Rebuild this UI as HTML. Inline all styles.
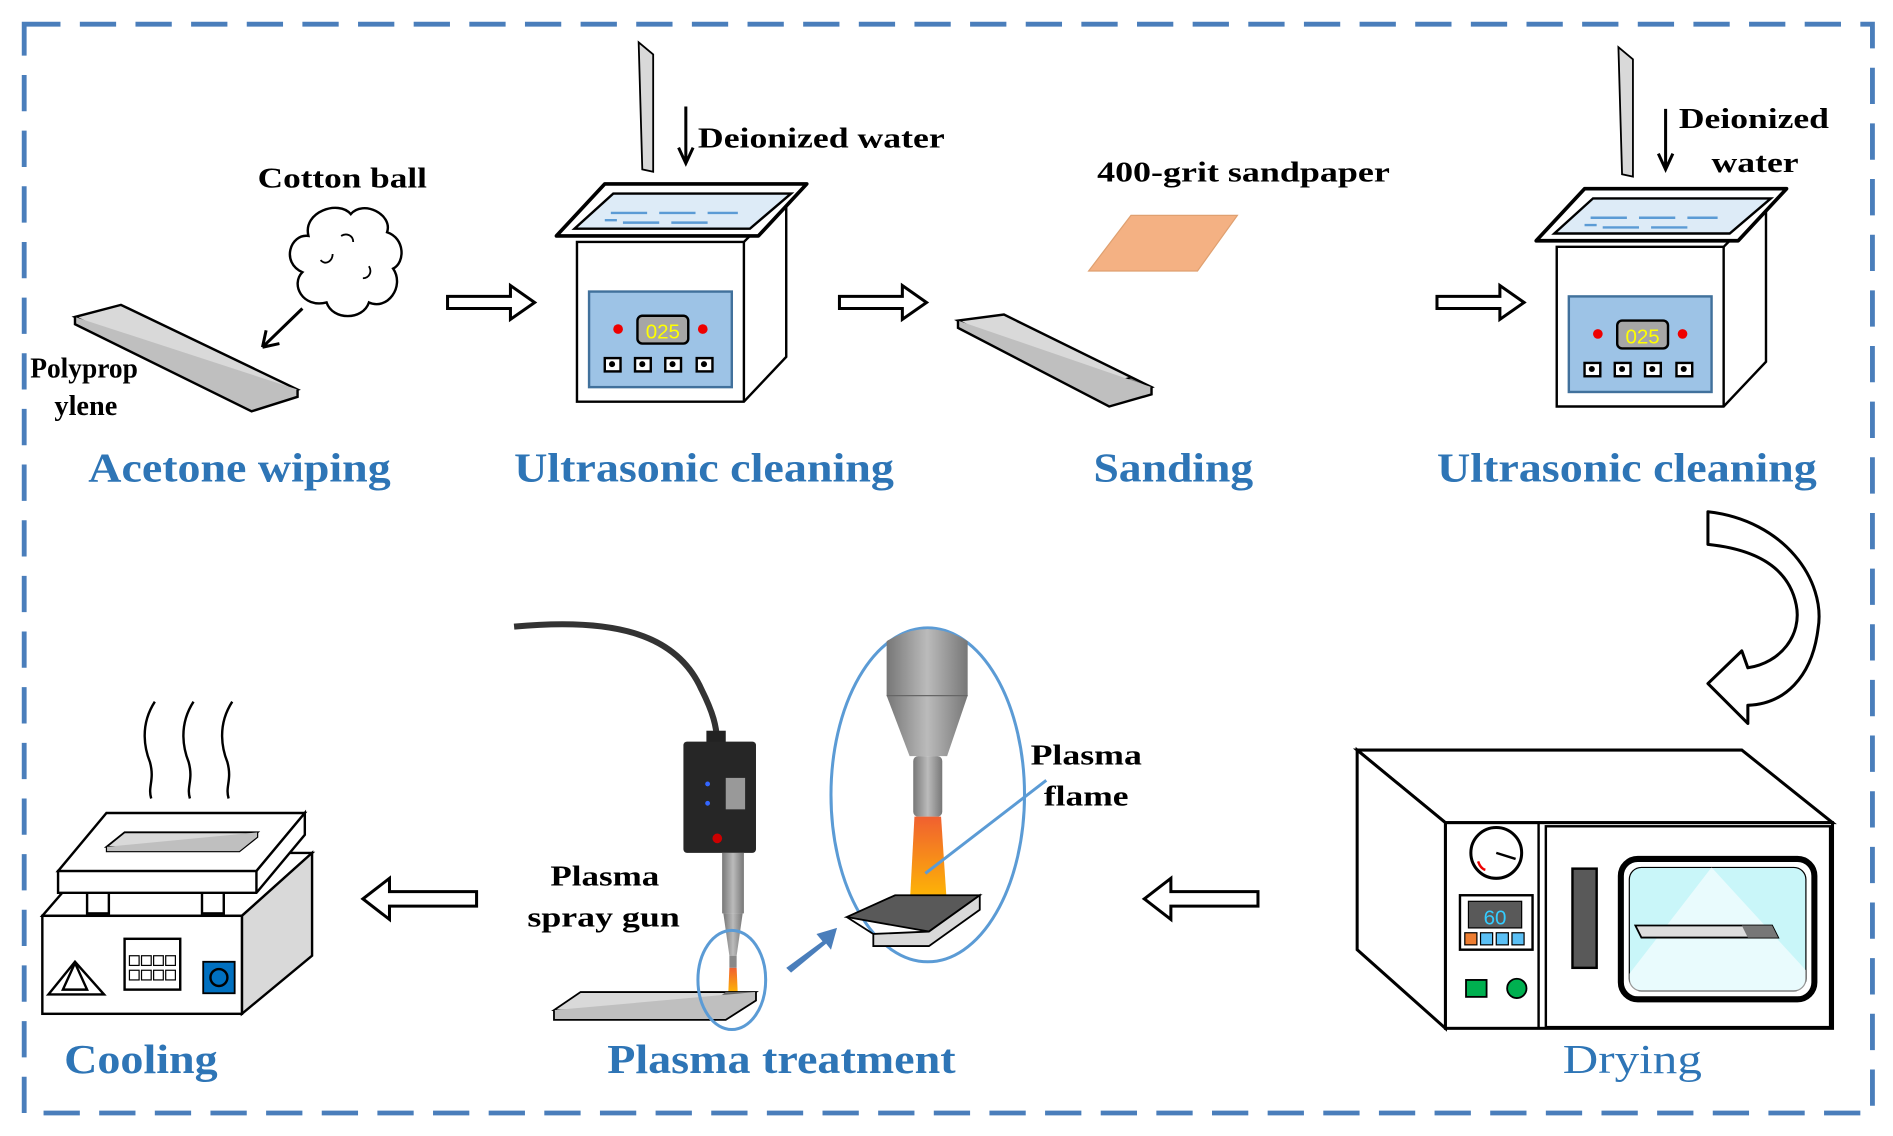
<!DOCTYPE html>
<html><head><meta charset="utf-8"><style>
html,body{margin:0;padding:0;background:#fff;overflow:hidden}
svg{display:block}
.bl{font-family:"Liberation Serif",serif;font-weight:bold;fill:#2e75b6;font-size:34px}
.bk{font-family:"Liberation Serif",serif;font-weight:bold;fill:#000;font-size:24px}
</style></head><body>
<svg width="1893" height="1136" viewBox="0 0 1565 939" preserveAspectRatio="none" xmlns="http://www.w3.org/2000/svg">
<defs>
<linearGradient id="g1" x1="0" x2="1"><stop offset="0" stop-color="#777"/><stop offset=".5" stop-color="#bbb"/><stop offset="1" stop-color="#777"/></linearGradient>
<linearGradient id="fl" x1="0" y1="0" x2="0" y2="1"><stop offset="0" stop-color="#f06030"/><stop offset="1" stop-color="#ffc000"/></linearGradient>
<g id="us">
<path d="M477,200 L615,200 L650,165 L650,295 L615,332 L477,332 Z" fill="#fff" stroke="#000" stroke-width="2"/>
<path d="M615,200 L615,332" stroke="#000" stroke-width="2"/>
<path d="M460,195 L500,152 L667,152 L627,195 Z" fill="#fff" stroke="#000" stroke-width="3" stroke-linejoin="round"/>
<path d="M475,189 L507,160 L654,160 L620,189 Z" fill="#ddebf7" stroke="#000" stroke-width="2"/>
<path d="M505,176 h30 M545,176 h30 M585,176 h25 M515,184 h30 M555,184 h30 M500,182 h10" stroke="#5b9bd5" stroke-width="2"/>
<rect x="487" y="241" width="118" height="79" fill="#9dc3e6" stroke="#41719c" stroke-width="2"/>
<rect x="527" y="261" width="42" height="23" rx="4" fill="#a6a6a6" stroke="#000" stroke-width="2"/>
<text x="548" y="280" font-family="Liberation Sans,sans-serif" font-size="17" fill="#ff0" text-anchor="middle">025</text>
<circle cx="511" cy="272" r="4" fill="#e00"/><circle cx="581" cy="272" r="4" fill="#e00"/>
<g fill="#fff" stroke="#000" stroke-width="2"><rect x="500" y="296" width="13" height="11"/><rect x="525" y="296" width="13" height="11"/><rect x="550" y="296" width="13" height="11"/><rect x="576" y="296" width="13" height="11"/></g>
<g fill="#000"><circle cx="506" cy="301" r="2.5"/><circle cx="531" cy="301" r="2.5"/><circle cx="556" cy="301" r="2.5"/><circle cx="582" cy="301" r="2.5"/></g>
<path d="M528,35 L540,45 L540,142 L531,140 Z" fill="#d9d9d9" stroke="#000" stroke-width="1.5"/>
</g>
</defs>
<rect x="20" y="20" width="1528" height="900" fill="none" stroke="#4a7ebb" stroke-width="4" stroke-dasharray="30,16"/>

<path d="M62,262 L100,252 L246,322 L208,333 Z" fill="#d9d9d9" stroke="#000" stroke-width="2"/>
<path d="M62,262 L62,268 L208,340 L246,328 L246,322" fill="#bfbfbf" stroke="#000" stroke-width="2"/>
<path d="M255,195 c-5,-20 25,-30 35,-18 c10,-12 35,0 30,15 c15,5 15,25 5,30 c10,15 -5,35 -20,28 c-5,15 -30,15 -35,0 c-20,5 -30,-15 -20,-25 c-18,-8 -10,-32 5,-30 Z" fill="#fff" stroke="#000" stroke-width="2"/>
<path d="M265,215 c5,5 10,0 10,-5 M300,230 c5,0 8,-5 5,-10 M282,195 c5,-3 10,0 10,5" fill="none" stroke="#000" stroke-width="1.5"/>
<path d="M250,255 L217,287 M217,287 l3,-14 M217,287 l14,-3" stroke="#000" stroke-width="2.5" fill="none"/>
<text class="bk" x="213" y="155" textLength="140" lengthAdjust="spacingAndGlyphs">Cotton ball</text>
<text class="bk" x="25" y="312" font-size="20" textLength="89" lengthAdjust="spacingAndGlyphs">Polyprop</text>
<text class="bk" x="45" y="343" font-size="20" textLength="52" lengthAdjust="spacingAndGlyphs">ylene</text>

<g fill="#fff" stroke="#000" stroke-width="2.5" stroke-linejoin="miter">
<path d="M370,245 h52 v-9 l20,14 l-20,14 v-9 h-52 Z"/>
<path d="M694,245 h52 v-9 l20,14 l-20,14 v-9 h-52 Z"/>
<path d="M1188,245 h52 v-9 l20,14 l-20,14 v-9 h-52 Z"/>
<path d="M394,737 h-72 v-11 l-22,17 l22,17 v-11 h72 Z"/>
<path d="M1040,737 h-72 v-11 l-22,17 l22,17 v-11 h72 Z"/>
</g>

<use href="#us"/>
<path d="M567,88 V135 M561,122 l6,13 l6,-13" stroke="#000" stroke-width="2.5" fill="none"/>
<text class="bk" x="577" y="122" textLength="204" lengthAdjust="spacingAndGlyphs">Deionized water</text>
<use href="#us" transform="translate(810,4)"/>
<path d="M1377,90 V140 M1371,127 l6,13 l6,-13" stroke="#000" stroke-width="2.5" fill="none"/>
<text class="bk" x="1388" y="106" textLength="124" lengthAdjust="spacingAndGlyphs">Deionized</text>
<text class="bk" x="1415" y="142" textLength="72" lengthAdjust="spacingAndGlyphs">water</text>

<path d="M900,224 L935,178 L1023,178 L990,224 Z" fill="#f4b183" stroke="#dfa070" stroke-width="1"/>
<path d="M792,265 L830,260 L952,320 L917,330 Z" fill="#d9d9d9" stroke="#000" stroke-width="2"/>
<path d="M900,322 L935,312 L952,320 L917,330 Z" fill="#7f7f7f" stroke="#000" stroke-width="1.5"/>
<path d="M792,265 L792,271 L917,336 L952,326 L952,320" fill="#bfbfbf" stroke="#000" stroke-width="2"/>
<text class="bk" x="907" y="150" textLength="242" lengthAdjust="spacingAndGlyphs">400-grit sandpaper</text>

<text class="bl" x="73" y="398" textLength="250" lengthAdjust="spacingAndGlyphs">Acetone wiping</text>
<text class="bl" x="425" y="398" textLength="314" lengthAdjust="spacingAndGlyphs">Ultrasonic cleaning</text>
<text class="bl" x="904" y="398" textLength="132" lengthAdjust="spacingAndGlyphs">Sanding</text>
<text class="bl" x="1188" y="398" textLength="314" lengthAdjust="spacingAndGlyphs">Ultrasonic cleaning</text>

<path d="M1412,423 C1475,430 1510,480 1503,520 C1498,560 1475,582 1445,583 L1445,598 L1412,565 L1440,538 L1445,552 C1472,548 1490,525 1485,500 C1480,475 1460,455 1412,450 Z" fill="#fff" stroke="#000" stroke-width="2.5" stroke-linejoin="round"/>

<path d="M1122,620 L1440,620 L1515,680 L1195,680 Z" fill="#fff" stroke="#000" stroke-width="2.5"/>
<path d="M1122,620 L1195,680 L1195,850 L1122,785 Z" fill="#fff" stroke="#000" stroke-width="2.5"/>
<rect x="1195" y="680" width="320" height="170" fill="#fff" stroke="#000" stroke-width="2.5"/>
<rect x="1278" y="683" width="235" height="166" fill="#fff" stroke="#000" stroke-width="2"/>
<path d="M1272,680 V850" stroke="#000" stroke-width="2"/>
<rect x="1340" y="710" width="160" height="116" rx="14" fill="#fff" stroke="#000" stroke-width="5"/>
<rect x="1347" y="717" width="146" height="102" rx="10" fill="#c9f6f9" stroke="#000" stroke-width="1"/>
<path d="M1415,717 L1493,802 L1493,819 L1347,819 L1347,805" fill="#fff" opacity=".6"/>
<path d="M1352,765 L1465,765 L1470,775 L1357,775 Z" fill="#ddd" stroke="#000" stroke-width="1.5"/>
<path d="M1440,765 L1465,765 L1470,775 L1445,775 Z" fill="#777"/>
<rect x="1300" y="718" width="20" height="82" fill="#595959" stroke="#000" stroke-width="2"/>
<circle cx="1237" cy="705" r="21" fill="#fff" stroke="#000" stroke-width="2.5"/>
<path d="M1237,705 L1253,710" stroke="#000" stroke-width="2"/>
<path d="M1222,712 q2,6 6,7" stroke="#e00" stroke-width="2" fill="none"/>
<rect x="1207" y="740" width="60" height="45" fill="#fff" stroke="#000" stroke-width="2"/>
<rect x="1214" y="745" width="44" height="22" fill="#595959" stroke="#000" stroke-width="1"/>
<text x="1236" y="764" font-family="Liberation Sans,sans-serif" font-size="17" fill="#3cf" text-anchor="middle">60</text>
<rect x="1211" y="771" width="10" height="10" fill="#ed7d31" stroke="#000"/>
<rect x="1224" y="771" width="10" height="10" fill="#5bc0f5" stroke="#000"/>
<rect x="1237" y="771" width="10" height="10" fill="#5bc0f5" stroke="#000"/>
<rect x="1250" y="771" width="10" height="10" fill="#5bc0f5" stroke="#000"/>
<rect x="1212" y="810" width="17" height="14" fill="#00b050" stroke="#000" stroke-width="1.5"/>
<circle cx="1254" cy="817" r="8" fill="#00b050" stroke="#000" stroke-width="1.5"/>
<text class="bl" x="1292" y="887" style="font-weight:normal" textLength="115" lengthAdjust="spacingAndGlyphs">Drying</text>

<path d="M425,518 C510,510 560,525 580,570 C590,590 592,600 593,612" fill="none" stroke="#333" stroke-width="5"/>
<rect x="584" y="604" width="16" height="10" fill="#222"/>
<rect x="565" y="613" width="60" height="92" rx="3" fill="#262626"/>
<rect x="600" y="643" width="16" height="26" fill="#999"/>
<circle cx="585" cy="648" r="2" fill="#36f"/><circle cx="585" cy="664" r="2" fill="#36f"/>
<circle cx="593" cy="693" r="4" fill="#c00"/>
<rect x="597" y="705" width="18" height="50" fill="url(#g1)"/>
<path d="M598,755 L614,755 L609,790 L603,790 Z" fill="url(#g1)"/>
<rect x="603" y="790" width="6" height="10" fill="#888"/>
<path d="M603,800 L609,800 L610,823 L602,823 Z" fill="url(#fl)"/>
<path d="M458,835 L480,820 L625,820 L600,837 Z" fill="#d9d9d9" stroke="#000" stroke-width="1.5"/>
<path d="M578,837 L600,820 L625,820 L600,837 Z" fill="#666"/>
<path d="M458,835 L458,843 L600,843 L625,827 L625,820" fill="#bfbfbf" stroke="#000" stroke-width="1.5"/>
<ellipse cx="605" cy="810" rx="28" ry="41" fill="none" stroke="#5b9bd5" stroke-width="2.5"/>
<path d="M650,800 L680,778 L675,772 L692,767 L687,785 L683,780 L654,804 Z" fill="#4a7ebb"/>
<ellipse cx="767" cy="657" rx="80" ry="138" fill="none" stroke="#5b9bd5" stroke-width="2.5"/>
<path d="M733,530 Q767,510 800,530 L800,575 L783,625 L752,625 L733,575 Z" fill="url(#g1)"/>
<path d="M733,575 L800,575" stroke="#666" stroke-width="1"/>
<rect x="755" y="625" width="24" height="50" rx="4" fill="url(#g1)"/>
<path d="M756,675 L778,675 L783,750 L752,750 Z" fill="url(#fl)"/>
<path d="M700,758 L740,740 L810,740 L768,770 Z" fill="#595959" stroke="#000" stroke-width="1.5"/>
<path d="M700,758 L722,772 L722,782 L768,782 L810,752 L810,740 L768,770 L722,772" fill="#d9d9d9" stroke="#000" stroke-width="1.5"/>
<path d="M765,722 L865,645" stroke="#5b9bd5" stroke-width="2.5"/>
<text class="bk" x="852" y="632" textLength="92" lengthAdjust="spacingAndGlyphs">Plasma</text>
<text class="bk" x="863" y="666" textLength="70" lengthAdjust="spacingAndGlyphs">flame</text>
<text class="bk" x="455" y="732" textLength="90" lengthAdjust="spacingAndGlyphs">Plasma</text>
<text class="bk" x="436" y="766" textLength="126" lengthAdjust="spacingAndGlyphs">spray gun</text>
<text class="bl" x="502" y="887" textLength="288" lengthAdjust="spacingAndGlyphs">Plasma treatment</text>

<path d="M35,757 L80,705 L258,705 L200,757 Z" fill="#fff" stroke="#000" stroke-width="2"/>
<path d="M200,757 L258,705 L258,790 L200,838 Z" fill="#d9d9d9" stroke="#000" stroke-width="2"/>
<rect x="35" y="757" width="165" height="81" fill="#fff" stroke="#000" stroke-width="2"/>
<rect x="72" y="737" width="18" height="18" fill="#fff" stroke="#000" stroke-width="2"/>
<rect x="167" y="737" width="18" height="18" fill="#fff" stroke="#000" stroke-width="2"/>
<path d="M48,720 L88,672 L252,672 L212,720 Z" fill="#fff" stroke="#000" stroke-width="2"/>
<path d="M48,720 L48,738 L212,738 L252,690 L252,672 L212,720 Z" fill="#fff" stroke="#000" stroke-width="2"/>
<path d="M212,720 V738" stroke="#000" stroke-width="2"/>
<path d="M88,700 L103,688 L213,688 L198,700 Z" fill="#d9d9d9" stroke="#000" stroke-width="1.5"/>
<path d="M88,700 L88,704 L198,704 L213,692 L213,688" fill="#bfbfbf" stroke="#000" stroke-width="1"/>
<path d="M52,818 L62,796 L72,818 Z M40,822 L62,795 L86,822 Z" fill="#fff" stroke="#000" stroke-width="2"/>
<rect x="103" y="776" width="46" height="42" fill="#fff" stroke="#000" stroke-width="2"/>
<g fill="#fff" stroke="#000" stroke-width="1"><rect x="107" y="790" width="8" height="8"/><rect x="117" y="790" width="8" height="8"/><rect x="127" y="790" width="8" height="8"/><rect x="137" y="790" width="8" height="8"/><rect x="107" y="802" width="8" height="8"/><rect x="117" y="802" width="8" height="8"/><rect x="127" y="802" width="8" height="8"/><rect x="137" y="802" width="8" height="8"/></g>
<rect x="168" y="795" width="26" height="26" fill="#0070c0" stroke="#000" stroke-width="1.5"/>
<circle cx="181" cy="808" r="7" fill="none" stroke="#000" stroke-width="2"/>
<g fill="none" stroke="#000" stroke-width="2">
<path d="M128,580 C115,600 120,620 124,630 C128,645 122,650 125,660"/>
<path d="M160,580 C147,600 152,620 156,630 C160,645 154,650 157,660"/>
<path d="M192,580 C179,600 184,620 188,630 C192,645 186,650 189,660"/>
</g>
<text class="bl" x="53" y="887" textLength="127" lengthAdjust="spacingAndGlyphs">Cooling</text>
</svg>
</body></html>
